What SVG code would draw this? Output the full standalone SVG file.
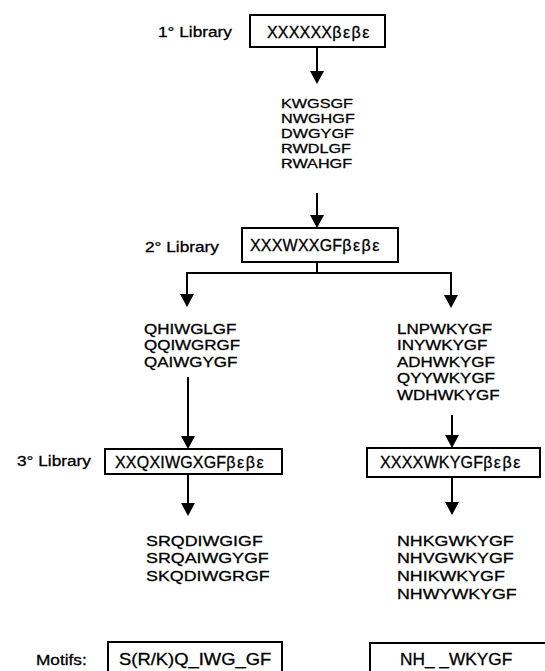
<svg xmlns="http://www.w3.org/2000/svg" width="545" height="671" viewBox="0 0 545 671">
<defs>
<style>
text{font-family:"Liberation Sans",Arial,sans-serif;fill:#000;stroke:#000;stroke-width:0.3}
.lbl{font-size:15px}
.seq{font-size:13.5px}
.seq2{font-size:14.5px}
.seq3{font-size:15.5px}
.box{fill:#fff;stroke:#000;stroke-width:2}
.bx{font-size:16px;letter-spacing:0.2px}
.gr{font-size:16px;letter-spacing:1.5px}
.mot{font-size:16px}
.conn path{fill:none;stroke:#000;stroke-width:2}
</style>
<marker id="ah" viewBox="0 0 13 14" refX="10" refY="7" markerWidth="13" markerHeight="14" markerUnits="userSpaceOnUse" orient="auto">
<path d="M0,0 L13,7 L0,14 z" fill="#000"/>
</marker>
</defs>
<rect width="545" height="671" fill="#fff"/>
<g id="connectors" class="conn">
<path d="M317,47 V81" marker-end="url(#ah)"/>
<path d="M317,193 V225" marker-end="url(#ah)"/>
<path d="M317,262 V273 M186,273 H452"/>
<path d="M187,273 V304" marker-end="url(#ah)"/>
<path d="M451,273 V305" marker-end="url(#ah)"/>
<path d="M188,377 V446" marker-end="url(#ah)"/>
<path d="M452,415 V445" marker-end="url(#ah)"/>
<path d="M188,474 V513" marker-end="url(#ah)"/>
<path d="M452,477 V512" marker-end="url(#ah)"/>
</g>
<g id="lib1">
<text class="lbl" transform="scale(1.15 1)" x="137.4" y="37">1° Library</text>
<rect class="box" x="250" y="15" width="135" height="32"/>
<text x="267" y="37.5"><tspan class="bx">XXXXXX</tspan><tspan class="gr">βεβε</tspan></text>
</g>
<g id="seqs1" class="seq" transform="scale(1.2 1)">
<text x="234.2" y="108.5">KWGSGF</text>
<text x="234.2" y="123.5">NWGHGF</text>
<text x="234.2" y="138.5">DWGYGF</text>
<text x="234.2" y="153.5">RWDLGF</text>
<text x="234.2" y="168.5">RWAHGF</text>
</g>
<g id="lib2">
<text class="lbl" transform="scale(1.15 1)" x="126.1" y="252">2° Library</text>
<rect class="box" x="242" y="228" width="156" height="34"/>
<text x="250" y="251"><tspan class="bx">XXXWXXGF</tspan><tspan class="gr">βεβε</tspan></text>
</g>
<g id="seqs2a" class="seq2" transform="scale(1.17 1)">
<text x="123.1" y="334">QHIWGLGF</text>
<text x="123.1" y="350.5">QQIWGRGF</text>
<text x="123.1" y="367">QAIWGYGF</text>
</g>
<g id="seqs2b" class="seq2" transform="scale(1.17 1)">
<text x="339.3" y="334">LNPWKYGF</text>
<text x="339.3" y="350.5">INYWKYGF</text>
<text x="339.3" y="367">ADHWKYGF</text>
<text x="339.3" y="383.5">QYYWKYGF</text>
<text x="339.3" y="400">WDHWKYGF</text>
</g>
<g id="lib3a">
<text class="lbl" transform="scale(1.15 1)" x="14.8" y="466">3° Library</text>
<rect class="box" x="105" y="449" width="177" height="25"/>
<text x="115" y="467.5"><tspan class="bx">XXQXIWGXGF</tspan><tspan class="gr">βεβε</tspan></text>
</g>
<g id="lib3b">
<rect class="box" x="367" y="448" width="173" height="29"/>
<text x="380" y="468"><tspan class="bx">XXXXWKYGF</tspan><tspan class="gr">βεβε</tspan></text>
</g>
<g id="seqs3a" class="seq3" transform="scale(1.15 1)">
<text x="127" y="546">SRQDIWGIGF</text>
<text x="127" y="563.5">SRQAIWGYGF</text>
<text x="127" y="581">SKQDIWGRGF</text>
</g>
<g id="seqs3b" class="seq3" transform="scale(1.15 1)">
<text x="345.2" y="546">NHKGWKYGF</text>
<text x="345.2" y="563.5">NHVGWKYGF</text>
<text x="345.2" y="581">NHIKWKYGF</text>
<text x="345.2" y="599">NHWYWKYGF</text>
</g>
<g id="motifA">
<text class="lbl" transform="scale(1.15 1)" x="31.3" y="665">Motifs:</text>
<rect class="box" x="108" y="642" width="174" height="50"/>
<text class="mot" transform="scale(1.15 1)" x="103.5" y="665">S(R/K)Q_IWG_GF</text>
</g>
<g id="motifB">
<rect class="box" x="370" y="643" width="200" height="50"/>
<text class="mot" transform="scale(1.08 1)" x="370.4" y="665">NH_ _WKYGF</text>
</g>
</svg>
